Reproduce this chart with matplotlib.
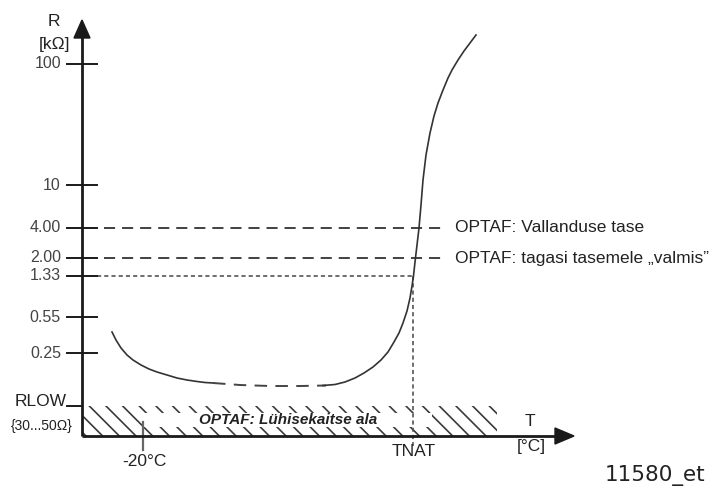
import matplotlib
matplotlib.use("Agg")
import matplotlib.pyplot as plt
from matplotlib.patches import Rectangle, Polygon

plt.rcParams['font.family'] = ['Liberation Sans', 'DejaVu Sans']
plt.rcParams['lines.scale_dashes'] = False
plt.rcParams['hatch.linewidth'] = 1.2

# ---- data (schematic diagram units, origin top-left) ----
r_tick_labels = ["100", "10", "4.00", "2.00", "1.33", "0.55", "0.25"]
r_tick_pos = [64, 185, 228, 258, 276, 317, 353]

threshold_labels = ["OPTAF: Vallanduse tase", "OPTAF: tagasi tasemele \u201evalmis\u201d"]
threshold_pos = [228, 258]

rlow_pos = 406
tnat_x = 413
t20_x = 143

# curve: left solid, middle dashed, right solid
curve_left_x = [112, 116, 121, 127, 133, 141, 149, 157, 167, 177, 187, 197, 205, 213]
curve_left_y = [332, 340, 348, 355, 360, 365, 369, 372, 375, 378, 380, 381.5, 382.5, 383]
curve_mid_x = [213, 240, 270, 300, 326]
curve_mid_y = [383, 385, 386, 386, 385.5]
curve_right_x = [323, 335, 345, 355, 364, 373, 381, 388, 394, 399, 403, 407, 410, 412, 413.5,
                 415, 417, 419, 421, 423, 426, 430, 434, 438, 443, 448, 452, 458, 464, 470, 476]
curve_right_y = [385.5, 384.5, 382, 378, 373, 367, 360, 352, 342, 333, 323, 311, 298, 286, 276,
                 262, 245, 228, 205, 180, 155, 133, 116, 103, 90, 78, 70, 60, 51, 43, 35]

fig = plt.figure(figsize=(7.18, 4.88), dpi=100)
ax = fig.add_axes([0, 0, 1, 1])
ax.set_xlim(0, 718)
ax.set_ylim(488, 0)
ax.axis('off')

axis_col = '#1a1a1a'
line_col = '#333333'
txt_col = '#222222'
tick_txt = '#444444'

# hatched low region
ax.add_patch(Rectangle((82, rlow_pos), 497 - 82, 436 - rlow_pos, facecolor='white',
                       edgecolor='#3a3a3a', linewidth=0, hatch='\\\\', zorder=1))
ax.add_patch(Rectangle((t20_x, 413), 432 - t20_x, 14, facecolor='white',
                       edgecolor='none', zorder=2))
ax.text(288, 420, "OPTAF: L\u00fchisekaitse ala", fontsize=11, fontweight='bold',
        fontstyle='italic', ha='center', va='center', color=txt_col, zorder=3)

# axes lines with arrows
ax.plot([82, 82], [436, 36], color=axis_col, lw=2.0, zorder=5, solid_capstyle='butt')
ax.add_patch(Polygon([[82, 20], [74, 38], [90, 38]], closed=True, color=axis_col, zorder=5))
ax.plot([82, 557], [436, 436], color=axis_col, lw=2.0, zorder=5, solid_capstyle='butt')
ax.add_patch(Polygon([[574, 436], [555, 428], [555, 444]], closed=True, color=axis_col, zorder=5))

# y ticks
for lab, yp in zip(r_tick_labels, r_tick_pos):
    ax.plot([67, 97], [yp, yp], color=axis_col, lw=1.4, zorder=4)
    ax.text(61, yp, lab, ha='right', va='center', fontsize=11.5, color=tick_txt)

# RLOW
ax.plot([67, 82], [rlow_pos, rlow_pos], color=axis_col, lw=1.4, zorder=4)
ax.text(67, 401, "RLOW", ha='right', va='center', fontsize=12.5, color=txt_col)
ax.text(42, 426, "{30...50\u03a9}", ha='center', va='center', fontsize=10, color=txt_col)

# axis labels
ax.text(54, 21, "R", ha='center', va='center', fontsize=12.5, color=txt_col)
ax.text(55, 44, "[k\u03a9]", ha='center', va='center', fontsize=12.5, color=txt_col)
ax.text(530, 421, "T", ha='center', va='center', fontsize=12.5, color=txt_col)
ax.text(531, 447, "[\u00b0C]", ha='center', va='center', fontsize=12.5, color=txt_col)

# threshold dashed lines
for lab, yp in zip(threshold_labels, threshold_pos):
    ax.plot([104, 446], [yp, yp], color=line_col, lw=1.3, dashes=(8, 5), zorder=3)
    ax.text(455, yp, lab, ha='left', va='center', fontsize=12.5, color=txt_col)

# 1.33 dotted lines to TNAT
ax.plot([97, tnat_x], [276, 276], color='#555555', lw=1.2, dashes=(3, 2.2), zorder=3)
ax.plot([tnat_x, tnat_x], [276, 446], color='#555555', lw=1.2, dashes=(3, 2.2), zorder=3)

# -20 C tick
ax.plot([t20_x, t20_x], [422, 450], color='#666666', lw=1.6, zorder=4)
ax.text(144, 462, "-20\u00b0C", ha='center', va='center', fontsize=12.5, color=txt_col)
ax.text(414, 451, "TNAT", ha='center', va='center', fontsize=12.5, color=txt_col)

# curve
ax.plot(curve_left_x, curve_left_y, color=line_col, lw=1.2, zorder=4)
ax.plot(curve_mid_x, curve_mid_y, color='#444444', lw=1.4, dashes=(9, 6), zorder=4)
ax.plot(curve_right_x, curve_right_y, color=line_col, lw=1.2, zorder=4)

fig.text(605 / 718, 1 - 476 / 488, "11580_et", fontsize=15.5, family='DejaVu Sans',
         ha='left', va='center', color=txt_col)

fig.savefig("out.png", dpi=100)
